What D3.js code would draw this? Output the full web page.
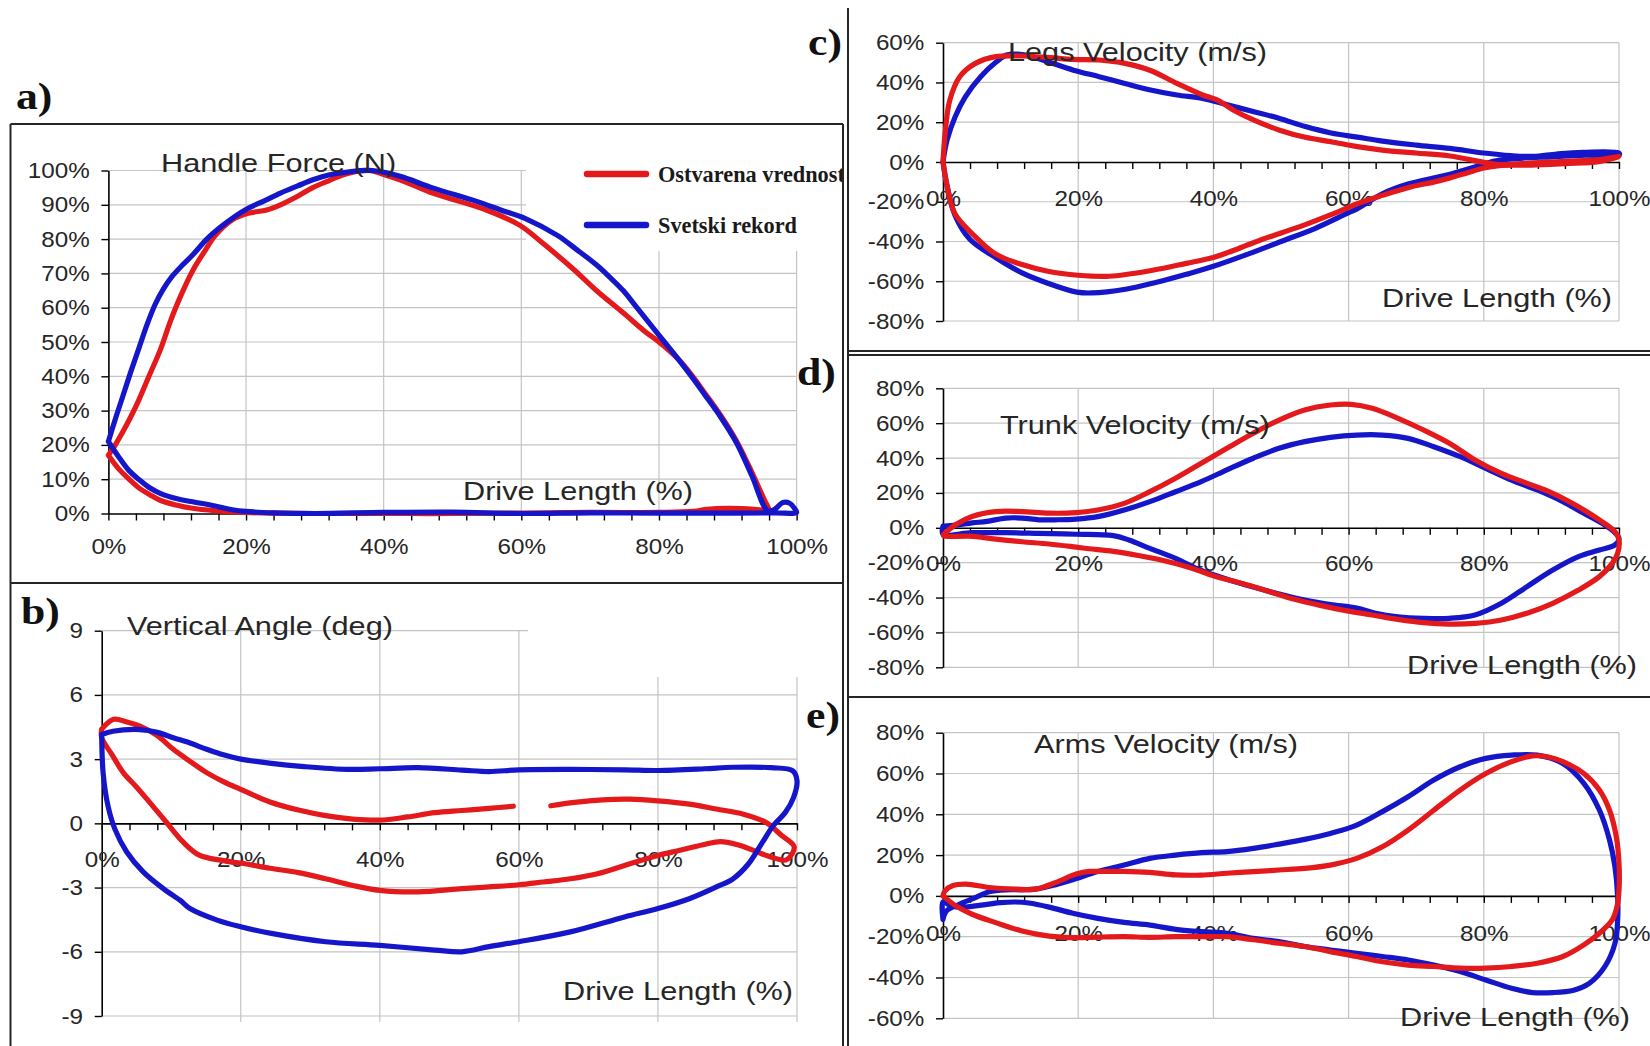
<!DOCTYPE html>
<html>
<head>
<meta charset="utf-8">
<script src="https://cdn.jsdelivr.net/npm/d3@7"></script>
<style>
  html, body { margin: 0; background: #fff; }
  svg { display: block; }
</style>
</head>
<body>
<svg id="fig" width="1650" height="1046"></svg>
<script>
// ---- shared axis values ----
const xTicks = [0, 20, 40, 60, 80, 100];
const minorTicks = [0, 4, 8, 12, 16, 20, 24, 28, 32, 36, 40, 44, 48, 52, 56, 60, 64, 68, 72, 76, 80, 84, 88, 92, 96, 100];
const forceTicks = [0, 10, 20, 30, 40, 50, 60, 70, 80, 90, 100];
const angleTicks = [-9, -6, -3, 0, 3, 6, 9];
const legsTicks = [-80, -60, -40, -20, 0, 20, 40, 60];
const trunkTicks = [-80, -60, -40, -20, 0, 20, 40, 60, 80];
const armsTicks = [-60, -40, -20, 0, 20, 40, 60, 80];

const seriesNames = ["Ostvarena vrednost", "Svetski rekord"];
const panelLetters = ["a)", "b)", "c)", "d)", "e)"];
const panelTitles = ["Handle Force (N)", "Vertical Angle (deg)", "Legs Velocity (m/s)", "Trunk Velocity (m/s)", "Arms Velocity (m/s)"];
const xTitle = "Drive Length (%)";

// ---- a) handle force, [drive %, force %] ----
const forceActual = [[0,17],[1,20],[2,23.5],[3.2,28],[4.4,33],[6,40.5],[7.6,48],[9,56],[10.3,62.5],[12.3,71],[14,76.5],[15.5,81],[17.9,85.5],[20.3,87.5],[23,88.5],[25,90],[27.5,92.5],[29.7,95],[32,97],[34.5,99],[37.7,100],[40.8,98.3],[44,96],[47,93.5],[51,91],[55,88.4],[59.8,84],[63,79],[67.7,71],[70.9,65],[74.8,58.5],[78,53],[80,50],[82.8,45],[84.7,40.5],[86.7,35],[89,28.5],[91.3,21],[93.5,12],[95.3,4],[96,0.8],[95,1],[92,1.4],[90,1.5],[87,1.2],[85,0.6],[80,0.3],[70,0.3],[60,0.1],[50,0],[40,0],[30,0],[24,0.1],[20,0.3],[18,0.5],[15.5,0.8],[12,1.6],[10,2.4],[7.6,3.8],[6,5.5],[4.4,7.5],[3,10],[1.5,13],[0,17]];
const forceRecord = [[0,21],[1,27.5],[2,33.6],[3.2,41],[4.4,48],[5.6,55],[6.8,61],[8,65.5],[9.2,69],[10.8,72.5],[12.3,75.5],[14.3,80],[16.3,83.5],[18.3,86.5],[20.3,89],[22.5,91],[25,93.4],[27.5,95.5],[29.7,97.3],[32,98.7],[34.5,99.5],[38.4,100],[42.4,98.3],[47,95],[53.5,91],[57,88.5],[60.6,86],[65.3,81],[68,77],[70.9,72.5],[72.8,69],[74.8,65],[76.8,60],[78.8,55],[80.8,50],[82.8,45],[84.7,40],[86.7,34.5],[89,28],[91.3,20.5],[93.5,11],[95.8,0.8],[96.8,1.2],[98,3.2],[99,3],[99.7,1.5],[100,0.3],[97,0.2],[90,0.1],[80,0.1],[70,0.2],[60,0],[50,0.4],[40,0.3],[30,0],[24,0.2],[20,0.6],[18,1.1],[15.5,2.2],[12,3.5],[10,4.3],[7.6,5.8],[6,7.5],[4.4,10],[3,12.5],[1.5,16.5],[0,21]];

// ---- b) vertical angle, [drive %, deg]; null marks a break in the trace ----
const angleActual = [[0,4.4],[1.7,4.86],[3.5,4.75],[5.5,4.54],[8,4.1],[10.3,3.46],[12.7,2.9],[15.1,2.37],[17.5,1.95],[19.9,1.6],[24.2,1.0],[28.3,0.62],[32.2,0.36],[36.1,0.2],[40,0.15],[44,0.3],[47.9,0.5],[51.8,0.6],[55.7,0.7],[59.2,0.8],null,[64.6,0.82],[68,0.98],[72,1.1],[76,1.13],[80,1.05],[84.5,0.9],[88.4,0.67],[92.3,0.43],[95.5,0.05],[97.8,-0.57],[99.6,-1.1],[98.5,-1.7],[96.5,-1.6],[94,-1.3],[91.5,-1.0],[89,-0.85],[86.5,-1.0],[83,-1.27],[80,-1.5],[75.2,-1.97],[71.3,-2.35],[67.4,-2.59],[63.5,-2.74],[60,-2.87],[55.7,-2.97],[51.8,-3.05],[45.5,-3.2],[40,-3.13],[36.1,-2.9],[32.2,-2.59],[28.3,-2.3],[24.2,-2.1],[20.8,-1.9],[17.5,-1.74],[14.1,-1.5],[11.7,-0.87],[9.3,0.05],[6.9,0.98],[5,1.7],[3.1,2.37],[1.5,3.2],[0,4.0],[0,4.4]];
const angleRecord = [[0,4.15],[1.6,4.3],[5.5,4.38],[8,4.25],[10.3,4.0],[12.7,3.75],[15.1,3.46],[17.5,3.2],[20,3.0],[24.4,2.8],[29.1,2.65],[35.4,2.52],[40,2.55],[45.5,2.6],[51.8,2.49],[55.7,2.42],[60,2.5],[67.4,2.52],[75.2,2.5],[80,2.47],[86.7,2.55],[90.8,2.62],[96.3,2.6],[99.4,2.45],[100,2.0],[99.5,1.2],[98.3,0.5],[96.6,-0.1],[95,-0.9],[93,-1.9],[90.8,-2.59],[88.4,-2.97],[84.5,-3.52],[80,-3.98],[75.2,-4.37],[67.4,-5.07],[60,-5.53],[55.7,-5.76],[51.8,-6.0],[47.9,-5.92],[40,-5.7],[32.2,-5.53],[24.4,-5.14],[20,-4.83],[16.6,-4.52],[12.7,-3.98],[11.3,-3.6],[8.9,-3.06],[6,-2.28],[3.6,-1.34],[1.9,-0.27],[0.9,0.82],[0.2,2.37],[0,4.15]];

// ---- c) legs velocity, [drive %, velocity %] ----
const legsActual = [[0,0],[0.3,14],[1,31],[2.5,43],[4.8,49.6],[7.8,53],[11.6,53.3],[15.5,52.6],[19.3,51.6],[23.1,51.3],[26.9,49.6],[30.7,46],[34.6,39.5],[38.4,33.7],[40.7,31],[43,26],[46,21],[49.8,16],[53.6,12.4],[57.4,10.2],[61.3,7.7],[65,6],[70,4.5],[75,3],[80,-0.2],[82.3,-1.3],[87.3,-0.5],[92.2,0.3],[97.1,1.2],[100,2.8],[97,0.2],[92,-0.8],[87,-1.6],[82.3,-1.8],[80,-3],[77.5,-5.5],[75,-8],[72.7,-10],[68.9,-12.8],[65,-16.8],[61.3,-21],[57.4,-26.5],[53.6,-31.5],[50,-35.7],[46,-40.5],[42.2,-45.5],[40,-48],[36,-51],[31,-54.5],[24.6,-57.5],[20,-57],[15.5,-55],[11.7,-51.6],[7.9,-46.6],[4.6,-37],[1.7,-25.6],[0.6,-12],[0,0]];
const legsRecord = [[0,0],[0.6,11],[1.8,22.8],[3.3,32.8],[5.6,43],[7.9,50.4],[9.4,53.8],[11,54.3],[12.6,53.5],[15.5,50.4],[19.3,46.2],[23.1,42.9],[26.9,39.5],[30.7,36.2],[34.6,33.7],[38.4,32],[42.2,28.6],[46,25.3],[49.8,21.9],[53.6,17.8],[57.4,14.6],[61.3,12.5],[65,10.5],[70,8.5],[75,6.8],[80,4.5],[84,3.2],[87.3,2.8],[90.8,4],[94.7,4.8],[100,4.5],[100,3.5],[95,3.4],[90,2.6],[86,2],[84,1.5],[81.4,0.3],[79,-2.2],[75,-6.2],[72.7,-8],[68.9,-11],[65,-16],[61.3,-23.5],[60,-25.5],[55,-33.5],[50,-40],[45,-46.5],[40,-52.5],[36,-56.5],[31.6,-60.5],[27,-64],[22,-65.9],[19.8,-65.5],[15.5,-61],[11.7,-55.8],[7.9,-48.3],[4,-39],[1.8,-27],[0.6,-12],[0,0]];

// ---- d) trunk velocity ----
const trunkActual = [[0.1,-3.7],[1.9,1.9],[4.3,6.5],[7.8,9.3],[11.7,9.3],[15.7,8.4],[19.7,8.7],[22.9,10.2],[26.8,14],[30.6,20.7],[34.4,28.4],[38.2,37],[42,45.6],[45.9,54.2],[49.7,61.8],[53.5,67.6],[57.3,70.4],[60.4,70.8],[63.5,68.5],[67.3,62.8],[71.1,56.1],[74.9,48.5],[78.7,38.9],[82.6,31.2],[86.4,25.5],[90.2,19.8],[94,12.1],[97.1,4.5],[99.4,-2.2],[100,-7],[99.8,-14.6],[99,-20.4],[97.1,-28],[94,-35.7],[90.2,-43.3],[86.4,-49],[82.6,-52.9],[78.7,-54.8],[74.9,-55.2],[71.1,-54.4],[67.3,-52.5],[63.5,-50],[59.6,-47.5],[55.8,-44.5],[52,-41],[48.2,-36.5],[44.3,-32],[40,-27.5],[36.7,-23],[32.9,-19],[29.1,-16],[25.2,-13.5],[21.6,-12],[19.7,-11.1],[15.7,-9.3],[11.7,-8],[7.8,-6.5],[3.9,-4.8],[0.1,-4.6],[0.1,-3.7]];
const trunkRecord = [[0,0.9],[1.9,1.5],[4.3,2.8],[6.5,3.7],[9.3,5.6],[11.7,5.6],[14.2,4.6],[16.7,4.6],[19.7,5],[22.9,6.4],[26.8,10.2],[30.6,15],[34.4,20.7],[38.2,26.5],[42,33.2],[45.9,39.9],[49.7,45.6],[53.5,49.4],[57.3,51.9],[61.2,53.2],[65,53.2],[68.8,51.3],[72.6,46.5],[76.5,40.8],[80.3,34.1],[84.1,27.4],[87.9,21.7],[91.7,15],[94.8,8.3],[97.9,1.6],[99.4,-2.8],[100,-6],[99.4,-9.8],[97.1,-12.7],[94,-16.5],[90.2,-24.2],[86.4,-33.7],[82.6,-43.3],[78.7,-50],[74.9,-51.9],[71.1,-51.9],[67.3,-51],[64,-49],[61.2,-46],[57.3,-44],[53.5,-41.5],[49.7,-38],[45.9,-34],[42,-29.5],[38.2,-24.5],[34.4,-17.5],[30.6,-11.8],[27.5,-7],[25.2,-4.5],[19.7,-3.7],[14.2,-3.2],[9.3,-2.8],[4.3,-2.8],[0,-3.7],[0,0.9]];

// ---- e) arms velocity ----
const armsActual = [[0,0],[0.3,2.5],[1.4,5],[3.4,5.8],[6.8,4.1],[10.8,3.3],[13.7,3.3],[16.7,6.6],[19.7,10.7],[21.6,12],[23,12],[26.8,12],[30.6,11.5],[34.4,10.3],[38.2,10.2],[42,11.1],[45.9,11.9],[49.7,12.7],[53.5,13.5],[57.3,15.1],[61.2,18.4],[65,24.1],[68.8,32.3],[72.6,42],[76.5,51.9],[80.3,60],[84.1,65.8],[87.2,68.6],[89.4,68.2],[91.7,65.8],[94.8,60],[97.1,51.9],[98.6,42],[99.6,29],[100,16],[100,2.9],[99.7,-5.3],[99,-11.8],[97.1,-18.3],[94.8,-24],[91.7,-29.7],[87.9,-33],[84.1,-34.6],[80.3,-35.4],[76.5,-35.4],[72.6,-34.6],[68.8,-33.9],[65,-32.3],[61.2,-29.7],[57.3,-27.3],[53.5,-24.8],[49.7,-23.2],[45.9,-21.5],[42,-20],[38.2,-20],[34.4,-20],[30.6,-20.3],[26.8,-20],[23,-20.2],[19.7,-20.5],[15.7,-19.7],[11.7,-17.2],[7.8,-13.1],[4.3,-9],[1.9,-4.9],[0,0]];
const armsRecord = [[0,-11.5],[0.5,-7.4],[2.4,-4.1],[4.8,-0.8],[6.8,2],[9.3,3],[11.7,3],[13.7,3.3],[16.7,5.5],[19.1,7.8],[22.9,11.9],[26.8,15.1],[30.6,18.4],[34.4,20],[38.2,21.2],[42,21.7],[45.9,23.3],[49.7,25.4],[53.5,27.7],[57.3,30.6],[61.2,34.7],[65,41.3],[68.8,48.6],[72.6,56.8],[76.5,63.3],[80.3,67.4],[84.1,69],[87.9,69],[91.7,64.9],[94.8,55.2],[97.1,42.1],[98.6,27.4],[99.4,14.3],[99.8,-0.4],[99.8,-11.8],[99.4,-23.3],[97.9,-34.7],[95.6,-42.9],[93.3,-46.2],[90.2,-47.4],[87.2,-47.4],[84.1,-45.3],[80.3,-41.2],[76.5,-37.1],[72.6,-33.9],[68.8,-31.4],[65,-29.7],[61.2,-28.1],[57.3,-26.5],[53.5,-24.8],[49.7,-22.4],[45.9,-20.8],[42,-18.3],[38.2,-17.5],[34.4,-16.4],[30.6,-14.3],[26.8,-13],[22.9,-11],[19.2,-8.5],[15.7,-5.5],[12.7,-3.5],[10.8,-3],[8.5,-3.3],[6.8,-4],[4.5,-5],[2.9,-5.6],[1.2,-5],[0,-3],[0,-11.5]];

// ---- drawing ----
const RED = "#e3191c";
const BLUE = "#1515c9";
const SANS = '"Liberation Sans", Arial, sans-serif';
const SERIF = '"Liberation Serif", "Times New Roman", serif';
const TXT = "#262626";
const GRID = "#c4c4c4";

const svg = d3.select("#fig");
svg.append("rect").attr("width", 1650).attr("height", 1046).attr("fill", "#fff");

function addText(parent, str, x, y, o) {
  return parent.append("text")
    .attr("transform", `translate(${x},${y}) scale(${o.sx || 1},1)`)
    .attr("font-family", o.family || SANS)
    .attr("font-size", o.size)
    .attr("font-weight", o.weight || "normal")
    .attr("fill", o.fill || TXT)
    .attr("text-anchor", o.anchor || "start")
    .text(str);
}

function drawPanel(cfg) {
  const g = svg.append("g");
  const x = d3.scaleLinear().domain([0, 100]).range([cfg.left, cfg.right]);
  const y = d3.scaleLinear().domain(cfg.yDomain).range([cfg.bottom, cfg.top]);
  const [y0v, y1v] = cfg.yDomain;

  // grid
  g.append("g").selectAll("line").data(cfg.yTicks.filter(v => v !== 0)).join("line")
    .attr("x1", x(0)).attr("x2", x(100))
    .attr("y1", d => y(d)).attr("y2", d => y(d))
    .attr("stroke", GRID).attr("stroke-width", 1.2);
  g.append("g").selectAll("line").data(xTicks.filter(v => v > 0)).join("line")
    .attr("x1", d => x(d)).attr("x2", d => x(d))
    .attr("y1", y(y0v) + (cfg.gridOver || 0)).attr("y2", y(y1v))
    .attr("stroke", GRID).attr("stroke-width", 1.2);
  if (cfg.mask) {
    g.append("rect").attr("x", cfg.mask[0]).attr("y", cfg.mask[1])
      .attr("width", cfg.mask[2]).attr("height", cfg.mask[3]).attr("fill", "#fff");
  }

  // y axis
  const ya = g.append("g").attr("transform", `translate(${x(0)},0)`)
    .call(d3.axisLeft(y).tickValues(cfg.yTicks).tickFormat(cfg.yFormat)
      .tickSize(7).tickSizeOuter(0).tickPadding(10));
  ya.select(".domain").attr("stroke", "#000").attr("stroke-width", 1.6);
  ya.selectAll(".tick line").attr("stroke", "#000").attr("stroke-width", 1.4);
  ya.selectAll("text").attr("font-family", SANS).attr("font-size", 22)
    .attr("fill", TXT).attr("transform", "scale(1.1,1)");

  // x axis along zero with minor marks
  const xa = g.append("g").attr("transform", `translate(0,${y(0)})`)
    .call(d3.axisBottom(x).tickValues(minorTicks).tickFormat("").tickSize(7).tickSizeOuter(0));
  xa.select(".domain").attr("stroke", "#000").attr("stroke-width", 1.6);
  xa.selectAll(".tick line").attr("stroke", "#000").attr("stroke-width", 1.4);

  // x tick labels, set below the zero line
  const xl = g.append("g").attr("transform", `translate(0,${y(0) + cfg.xLabelOffset})`)
    .call(d3.axisBottom(x).tickValues(xTicks).tickFormat(d => d + "%").tickSize(0).tickPadding(0));
  xl.select(".domain").remove();
  xl.selectAll("text").attr("font-family", SANS).attr("font-size", 22)
    .attr("fill", TXT).attr("dy", "0.36em").attr("transform", "scale(1.1,1)");

  // traces
  const line = d3.line()
    .defined(d => d !== null)
    .x(d => x(d[0])).y(d => y(d[1]))
    .curve(d3.curveCatmullRom.alpha(0.5));
  const order = cfg.blueOnTop
    ? [[cfg.actual, RED], [cfg.record, BLUE]]
    : [[cfg.record, BLUE], [cfg.actual, RED]];
  order.forEach(([data, color]) => {
    g.append("path").datum(data).attr("d", line)
      .attr("fill", "none").attr("stroke", color).attr("stroke-width", 5.2)
      .attr("stroke-linejoin", "round").attr("stroke-linecap", "round");
  });

  // titles
  addText(g, cfg.title, cfg.titlePos[0], cfg.titlePos[1], { size: 26, sx: 1.18 });
  addText(g, xTitle, cfg.xTitlePos[0], cfg.xTitlePos[1], { size: 26, sx: 1.18 });
  addText(g, cfg.letter, cfg.letterPos[0], cfg.letterPos[1],
    { size: 38, family: SERIF, weight: "bold", sx: 1.15, fill: "#111" });
}

const pct = d => d + "%";

drawPanel({
  left: 108.4, right: 796.6, top: 170.5, bottom: 513.5, yDomain: [0, 100],
  yTicks: forceTicks, yFormat: pct, xLabelOffset: 33,
  actual: forceActual, record: forceRecord, blueOnTop: true,
  mask: [526, 125, 316, 126],
  title: panelTitles[0], titlePos: [161, 172],
  xTitlePos: [463, 500], letter: panelLetters[0], letterPos: [16, 109]
});
drawPanel({
  left: 101.7, right: 797, top: 630.7, bottom: 1016, yDomain: [-9, 9],
  yTicks: angleTicks, yFormat: d => d, xLabelOffset: 36, gridOver: 6,
  actual: angleActual, record: angleRecord, blueOnTop: true,
  mask: [528, 585, 314, 92],
  title: panelTitles[1], titlePos: [127, 635],
  xTitlePos: [563, 1000], letter: panelLetters[1], letterPos: [21, 624]
});
drawPanel({
  left: 943, right: 1619, top: 42.7, bottom: 321, yDomain: [-80, 60],
  yTicks: legsTicks, yFormat: pct, xLabelOffset: 36,
  actual: legsActual, record: legsRecord, blueOnTop: false,
  title: panelTitles[2], titlePos: [1008, 61],
  xTitlePos: [1382, 307], letter: panelLetters[2], letterPos: [808, 55]
});
drawPanel({
  left: 943, right: 1619, top: 388.3, bottom: 667.3, yDomain: [-80, 80],
  yTicks: trunkTicks, yFormat: pct, xLabelOffset: 35,
  actual: trunkActual, record: trunkRecord, blueOnTop: false,
  title: panelTitles[3], titlePos: [1000, 434],
  xTitlePos: [1407, 674], letter: panelLetters[3], letterPos: [797, 385]
});
drawPanel({
  left: 943, right: 1619, top: 732.7, bottom: 1018.3, yDomain: [-60, 80],
  yTicks: armsTicks, yFormat: pct, xLabelOffset: 37,
  actual: armsActual, record: armsRecord, blueOnTop: false,
  title: panelTitles[4], titlePos: [1034, 753],
  xTitlePos: [1400, 1026], letter: panelLetters[4], letterPos: [806, 728]
});

// legend of panel a, clipped by the panel frame
svg.append("clipPath").attr("id", "frameA")
  .append("rect").attr("x", 10).attr("y", 124).attr("width", 832).attr("height", 459);
const legend = svg.append("g").attr("clip-path", "url(#frameA)");
[[seriesNames[0], RED, 174], [seriesNames[1], BLUE, 225]].forEach(([name, color, ly]) => {
  legend.append("line").attr("x1", 587).attr("x2", 646).attr("y1", ly).attr("y2", ly)
    .attr("stroke", color).attr("stroke-width", 6.5).attr("stroke-linecap", "round");
  addText(legend, name, 658, ly + 8, { size: 22.3, family: SERIF, weight: "bold", fill: "#1a1a1a" });
});

// panel frames
const frames = [
  [10.5, 124, 843, 124], [10.5, 124, 10.5, 1046], [843, 124, 843, 1046], [10.5, 583, 843, 583],
  [848, 8, 848, 1046], [848, 351, 1650, 351], [848, 355, 1650, 355], [848, 697, 1650, 697]
];
svg.append("g").selectAll("line").data(frames).join("line")
  .attr("x1", d => d[0]).attr("y1", d => d[1]).attr("x2", d => d[2]).attr("y2", d => d[3])
  .attr("stroke", "#262626").attr("stroke-width", 2);
</script>
</body>
</html>
